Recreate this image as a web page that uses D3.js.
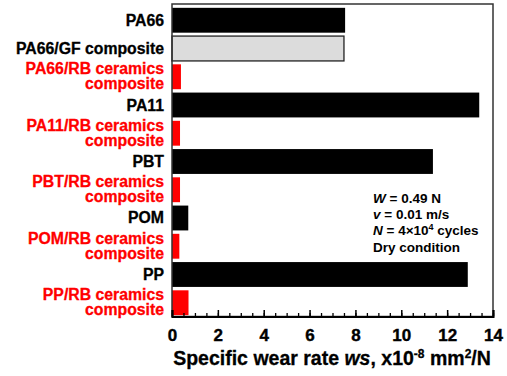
<!DOCTYPE html>
<html lang="en">
<head>
    <meta charset="UTF-8">
    <title>Specific wear rate</title>
    <script src="https://d3js.org/d3.v7.min.js"></script>
    <style>
        body {
            margin: 0;
            padding: 0;
            background: #fff;
            font-family: "Liberation Sans", Arial, sans-serif;
        }
        text {
            font-weight: bold;
        }
        .tick text {
            font: bold 17px "Liberation Sans", Arial, sans-serif;
        }
    </style>
</head>
<body>
    <div id="chart"></div>

    <script>
        // Materials, top to bottom
        var materials = [
            ["PA66"],
            ["PA66/GF composite"],
            ["PA66/RB ceramics", "composite"],
            ["PA11"],
            ["PA11/RB ceramics", "composite"],
            ["PBT"],
            ["PBT/RB ceramics", "composite"],
            ["POM"],
            ["POM/RB ceramics", "composite"],
            ["PP"],
            ["PP/RB ceramics", "composite"]
        ];
        // Specific wear rate, x10^-8 mm^2/N
        var wearRates = [7.55, 7.5, 0.39, 13.4, 0.35, 11.38, 0.35, 0.71, 0.32, 12.9, 0.72];
        // kind of material: neat polymer, glass fibre, RB ceramics
        var kinds = ["neat", "gf", "rb", "neat", "rb", "neat", "rb", "neat", "rb", "neat", "rb"];
        var xTicks = [0, 2, 4, 6, 8, 10, 12, 14];

        var fills = { neat: "#000000", gf: "#dcdcdc", rb: "#ff0000" };
        var labelColors = { neat: "#000000", gf: "#000000", rb: "#ff0000" };

        var svgWidth = 507;
        var svgHeight = 376;
        var plot = { left: 172, right: 493, top: 4, bottom: 316.5 };

        var svg = d3.select("#chart")
                    .append("svg")
                    .attr("width", svgWidth)
                    .attr("height", svgHeight);

        var x = d3.scaleLinear()
            .domain([0, 14])
            .range([plot.left, plot.right]);

        var y = d3.scaleBand()
            .domain(d3.range(materials.length))
            .range([5, 318])
            .paddingInner(0.12)
            .paddingOuter(0.1);

        // bars
        svg.selectAll(".bar")
            .data(wearRates)
            .enter().append("rect")
            .attr("class", "bar")
            .attr("x", x(0))
            .attr("y", (d, i) => y(i))
            .attr("width", d => x(d) - x(0))
            .attr("height", y.bandwidth())
            .attr("fill", (d, i) => fills[kinds[i]])
            .attr("stroke", (d, i) => kinds[i] === "gf" ? "#222" : "none")
            .attr("stroke-width", 1.3);

        // frame
        svg.append("rect")
            .attr("x", plot.left)
            .attr("y", plot.top)
            .attr("width", plot.right - plot.left)
            .attr("height", plot.bottom - plot.top)
            .attr("fill", "none")
            .attr("stroke", "#333")
            .attr("stroke-width", 1.5);

        // category labels
        var labels = svg.selectAll(".cat")
            .data(materials)
            .enter().append("text")
            .attr("class", "cat")
            .attr("text-anchor", "end")
            .attr("font-size", "15.8px")
            .attr("fill", (d, i) => labelColors[kinds[i]])
            .attr("stroke", (d, i) => labelColors[kinds[i]])
            .attr("stroke-width", 0.3);

        labels.each(function(lines, i) {
            var c = y(i) + y.bandwidth() / 2;
            var t = d3.select(this);
            if (lines.length === 1) {
                t.append("tspan").attr("x", 164).attr("y", c + 5.5).text(lines[0]);
            } else {
                lines.forEach(function(line, k) {
                    t.append("tspan").attr("x", 164).attr("y", c - 2.5 + k * 15).text(line);
                });
            }
        });

        // x axis, ticks pointing inward
        var minorAxis = d3.axisBottom(x)
            .tickValues(d3.range(0, 14.01, 0.5))
            .tickSize(-3.5)
            .tickFormat("");
        svg.append("g")
            .attr("transform", "translate(0," + plot.bottom + ")")
            .call(minorAxis)
            .call(g => g.select(".domain").remove())
            .selectAll("line").attr("stroke", "#000").attr("stroke-width", 1.3);

        var majorAxis = d3.axisBottom(x)
            .tickValues(xTicks)
            .tickSize(-6.5)
            .tickPadding(12);
        var xAxis = svg.append("g")
            .attr("class", "x-axis")
            .attr("transform", "translate(0," + plot.bottom + ")")
            .call(majorAxis);
        xAxis.select(".domain")
            .attr("stroke", "#000")
            .attr("stroke-width", 2);
        xAxis.selectAll("line").attr("stroke", "#000").attr("stroke-width", 1.5);
        xAxis.selectAll(".tick text")
            .attr("fill", "#000")
            .attr("stroke", "#000")
            .attr("stroke-width", 0.4);

        // x axis title
        var title = svg.append("text")
            .attr("x", 332)
            .attr("y", 365)
            .attr("text-anchor", "middle")
            .attr("font-size", "19.5px")
            .attr("stroke", "#000")
            .attr("stroke-width", 0.3);
        title.append("tspan").text("Specific wear rate ");
        title.append("tspan").attr("font-style", "italic").text("ws");
        title.append("tspan").text(", x10");
        title.append("tspan").attr("font-size", "12px").attr("dy", "-7").text("-8");
        title.append("tspan").attr("dy", "7").text(" mm");
        title.append("tspan").attr("font-size", "12px").attr("dy", "-7").text("2");
        title.append("tspan").attr("dy", "7").text("/N");

        // test conditions
        var cond = svg.append("g")
            .attr("font-size", "13.5px");
        var condStart = 202.5;
        var condStep = 16.4;

        var c1 = cond.append("text").attr("x", 373).attr("y", condStart);
        c1.append("tspan").attr("font-style", "italic").text("W");
        c1.append("tspan").text(" = 0.49 N");

        var c2 = cond.append("text").attr("x", 373).attr("y", condStart + condStep);
        c2.append("tspan").attr("font-style", "italic").text("v");
        c2.append("tspan").text(" = 0.01 m/s");

        var c3 = cond.append("text").attr("x", 373).attr("y", condStart + condStep * 2);
        c3.append("tspan").attr("font-style", "italic").text("N");
        c3.append("tspan").text(" = 4\u00d710");
        c3.append("tspan").attr("font-size", "9px").attr("dy", "-5").text("4");
        c3.append("tspan").attr("dy", "5").text(" cycles");

        cond.append("text").attr("x", 373).attr("y", condStart + condStep * 3).text("Dry condition");
    </script>
</body>
</html>
